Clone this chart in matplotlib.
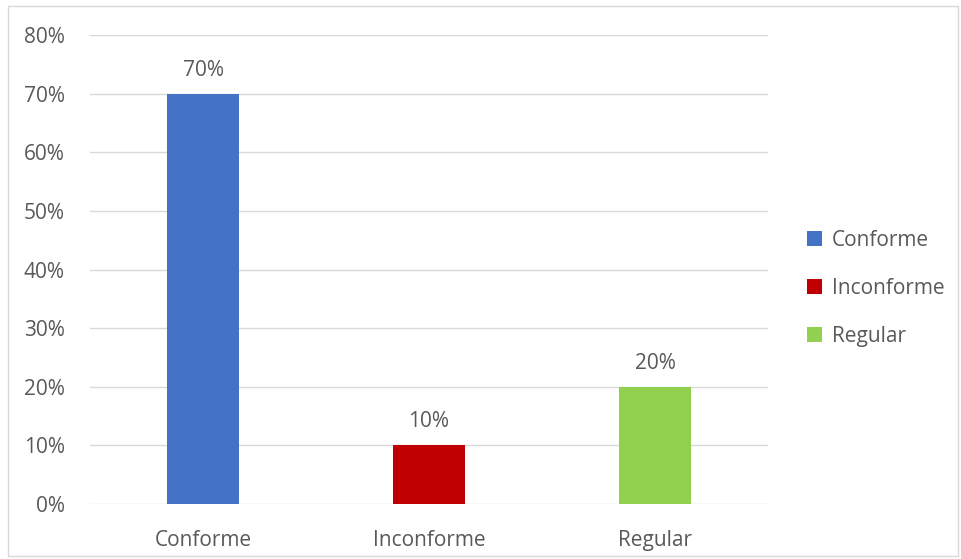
import matplotlib.pyplot as plt
from matplotlib.patches import Rectangle
from matplotlib.ticker import PercentFormatter

categories = ['Conforme', 'Inconforme', 'Regular']
values = [0.70, 0.10, 0.20]
colors = ['#4472C4', '#C00000', '#92D050']
yticks = [0, 0.1, 0.2, 0.3, 0.4, 0.5, 0.6, 0.7, 0.8]

plt.rcParams['font.family'] = ['Open Sans', 'DejaVu Sans']
txt = '#595959'
fs = 15

fig = plt.figure(figsize=(9.61, 5.59), dpi=100)
# chart border
fig.patches.append(Rectangle((8 / 961, 3 / 559), 950 / 961, 550 / 559, transform=fig.transFigure,
                             fill=False, edgecolor='#D9D9D9', linewidth=1))
ax = fig.add_axes([90 / 961, 55 / 559, 678 / 961, 469 / 559])

x = range(len(categories))
bars = ax.bar(x, values, width=0.32, color=colors, label=categories, zorder=3)
for b, v in zip(bars, values):
    ax.text(b.get_x() + b.get_width() / 2, v + 0.022, f'{v:.0%}', ha='center', va='bottom',
            fontsize=fs, color=txt)

ax.set_xlim(-0.5, 2.5)
ax.set_ylim(0, 0.8)
ax.set_yticks(yticks)
ax.yaxis.set_major_formatter(PercentFormatter(1.0, decimals=0))
ax.set_xticks(list(x))
ax.set_xticklabels(categories)
ax.tick_params(axis='both', length=0, labelsize=fs, colors=txt)
ax.tick_params(axis='y', pad=18)
ax.tick_params(axis='x', pad=19)
ax.grid(axis='y', color='#D9D9D9', linewidth=1, zorder=0)
for s in ax.spines.values():
    s.set_visible(False)

leg = ax.legend(loc='center left', bbox_to_anchor=(1.03, 0.46), frameon=False, fontsize=fs,
                handlelength=0.7, handleheight=0.7, labelspacing=1.3, handletextpad=0.5)
for t in leg.get_texts():
    t.set_color(txt)

fig.savefig('out.png', dpi=100)
